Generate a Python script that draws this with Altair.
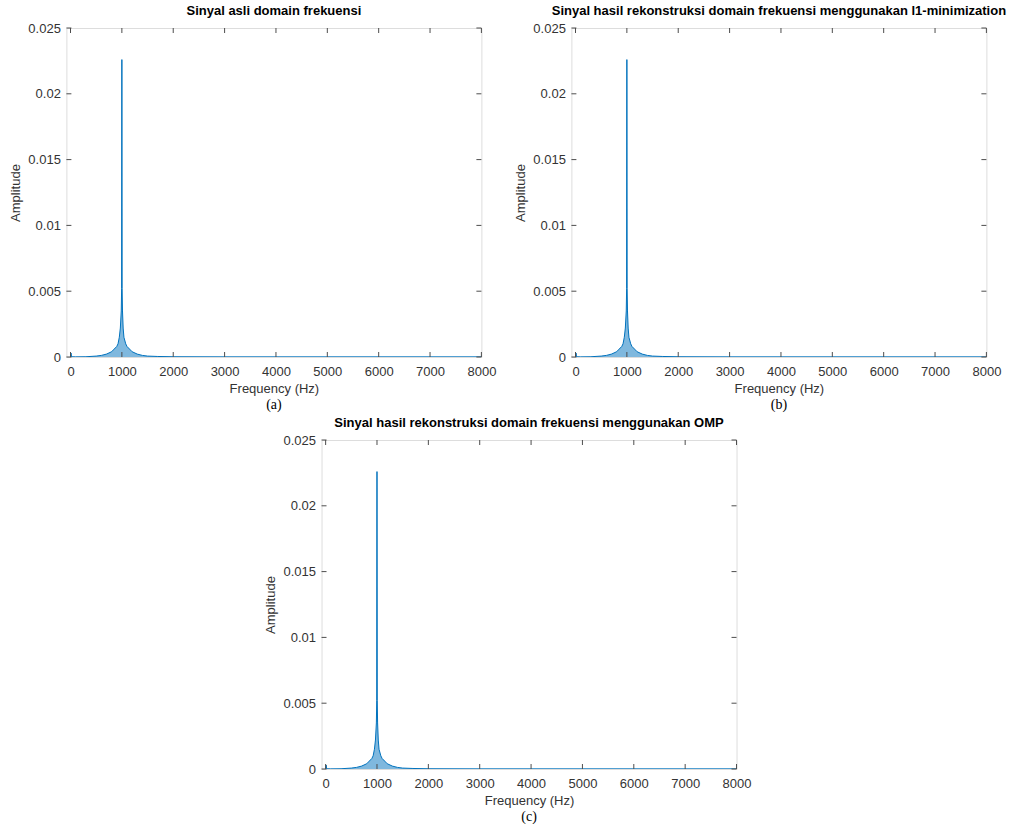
import altair as alt
import pandas as pd

# ---- data (frequency in Hz, amplitude) ----
freq_hz = [0, 10, 20, 100, 300, 500, 600, 700, 800, 850, 900, 925, 950, 970, 988, 995,
           1000, 1005, 1012, 1025, 1040, 1075, 1100, 1150, 1200, 1300, 1400, 1500,
           1700, 2000, 3000, 5000, 8000]
amp_a = [0.00002, 0.0003, 0.00002, 0.00001, 0.00002, 0.00007, 0.00012, 0.00022, 0.0004,
         0.0006, 0.0008, 0.001, 0.0015, 0.0022, 0.0035, 0.0052,
         0.0226, 0.0052, 0.0035, 0.0022, 0.0015, 0.001, 0.0008, 0.0006, 0.0004,
         0.00022, 0.00012, 0.00007, 0.00004, 0.00002, 0.00001, 0.00001, 0.00001]
amp_b = [0.00002, 0.0003, 0.00002, 0.00001, 0.00002, 0.00007, 0.00012, 0.00022, 0.0004,
         0.0006, 0.0008, 0.001, 0.0015, 0.0022, 0.0035, 0.0052,
         0.0226, 0.0052, 0.0035, 0.0022, 0.0015, 0.001, 0.0008, 0.0006, 0.0004,
         0.00022, 0.00012, 0.00007, 0.00004, 0.00002, 0.00001, 0.00001, 0.00001]
amp_c = [0.00002, 0.0003, 0.00002, 0.00001, 0.00002, 0.00007, 0.00012, 0.00022, 0.0004,
         0.0006, 0.0008, 0.001, 0.0015, 0.0022, 0.0035, 0.0052,
         0.0226, 0.0052, 0.0035, 0.0022, 0.0015, 0.001, 0.0008, 0.0006, 0.0004,
         0.00022, 0.00012, 0.00007, 0.00004, 0.00002, 0.00001, 0.00001, 0.00001]

x_ticks = [0, 1000, 2000, 3000, 4000, 5000, 6000, 7000, 8000]
y_ticks = [0, 0.005, 0.01, 0.015, 0.02, 0.025]
x_domain = [-80, 8000]
y_domain = [0, 0.025]

titles = [
    "Sinyal asli domain frekuensi",
    "Sinyal hasil rekonstruksi domain frekuensi menggunakan l1-minimization",
    "Sinyal hasil rekonstruksi domain frekuensi menggunakan OMP",
]
captions = ["(a)", "(b)", "(c)"]
x_title = "Frequency (Hz)"
y_title = "Amplitude"

# ---- style ----
W, H = 415, 329
BLUE = "#0072BD"
AX = "#4d4d4d"
TXT = "#333333"
FONT = "Liberation Sans"
TICK = 5


def panel(amp, title, caption):
    df = pd.DataFrame({"f": freq_hz, "a": amp})
    xs = alt.Scale(domain=x_domain, nice=False, zero=False)
    ys = alt.Scale(domain=y_domain, nice=False, zero=False)
    x_axis = alt.Axis(values=x_ticks, tickSize=0, domain=False, grid=False, format="d",
                      labelFontSize=13, labelColor=TXT, labelPadding=8, labelFlush=False,
                      labelOverlap=False, labelFont=FONT,
                      title=x_title, titleFontSize=13, titleFontWeight="normal",
                      titleColor=TXT, titlePadding=4, titleFont=FONT)
    y_axis = alt.Axis(values=y_ticks, tickSize=0, domain=False, grid=False, format="~g",
                      labelFontSize=13, labelColor=TXT, labelPadding=6, labelFlush=False,
                      labelOverlap=False, labelFont=FONT,
                      title=y_title, titleFontSize=13, titleFontWeight="normal",
                      titleColor=TXT, titlePadding=5, titleFont=FONT)
    X = alt.X("f:Q", scale=xs, axis=x_axis)
    Y = alt.Y("a:Q", scale=ys, axis=y_axis)

    base = alt.Chart(df)
    area = base.mark_area(color=BLUE, opacity=0.5, clip=True).encode(x=X, y=Y)
    line = base.mark_line(color=BLUE, strokeWidth=1, clip=True).encode(x=X, y=Y)

    xt = alt.Chart(pd.DataFrame({"f": x_ticks}))
    yt = alt.Chart(pd.DataFrame({"a": y_ticks}))
    bottom = xt.mark_rule(color=AX, strokeWidth=1).encode(
        x=X, y=alt.value(H), y2=alt.value(H - TICK))
    top = xt.mark_rule(color=AX, strokeWidth=1).encode(
        x=X, y=alt.value(0), y2=alt.value(TICK))
    left = yt.mark_rule(color=AX, strokeWidth=1).encode(
        y=Y, x=alt.value(0), x2=alt.value(TICK))
    right = yt.mark_rule(color=AX, strokeWidth=1).encode(
        y=Y, x=alt.value(W), x2=alt.value(W - TICK))

    cap = alt.Chart(pd.DataFrame({"t": [caption]})).mark_text(
        font="Liberation Serif", fontSize=14, color="black", baseline="middle", align="center"
    ).encode(text="t:N", x=alt.value(W / 2), y=alt.value(H + 48))

    return alt.layer(area, line, bottom, top, left, right, cap).properties(
        width=W, height=H,
        title=alt.TitleParams(text=title, fontSize=13, fontWeight="bold", font=FONT,
                              color="black", anchor="middle", offset=4),
    )


pa = panel(amp_a, titles[0], captions[0])
pb = panel(amp_b, titles[1], captions[1])
pc = panel(amp_c, titles[2], captions[2])

top_row = alt.hconcat(pa, pb, spacing=17)
chart = alt.vconcat(top_row, pc, spacing=3, center=True).properties(
    padding={"left": 9, "top": 4, "right": 5, "bottom": 2}
).configure_view(
    stroke=AX, strokeWidth=1
).configure(font=FONT, background="white")

chart.save("out.html", embed_options={"renderer": "svg", "actions": False})
